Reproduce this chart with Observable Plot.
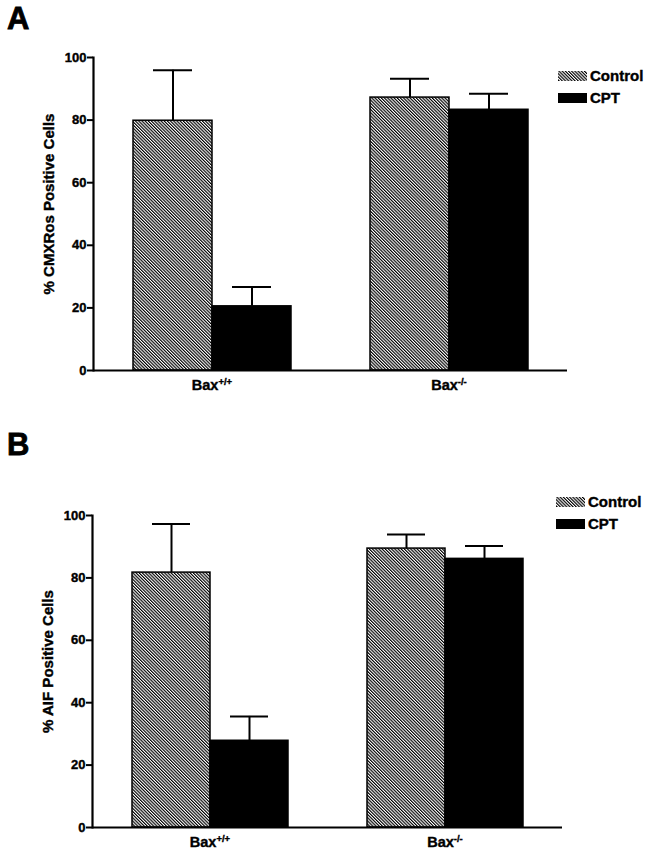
<!DOCTYPE html>
<html>
<head>
<meta charset="utf-8">
<script src="https://cdn.jsdelivr.net/npm/d3@7"></script>
<script src="https://cdn.jsdelivr.net/npm/@observablehq/plot@0.6"></script>
<style>
  body { margin: 0; background: #fff; font-family: "Liberation Sans", Arial, sans-serif; }
  #wrap { position: relative; width: 649px; height: 853px; overflow: hidden; }
  .panel { position: relative; width: 649px; }
  .letter { position: absolute; left: 7px; top: 3px; font-size: 31px; line-height: 31px; font-weight: 900; color: #000; -webkit-text-stroke: 0.8px #000; }
  .legend { position: absolute; font-size: 15px; font-weight: bold; color: #000; -webkit-text-stroke: 0.4px #000; }
  .legend .row { position: relative; height: 22px; width: 95px; }
  .legend .sw { position: absolute; left: 0; top: 6px; width: 29px; height: 10px; }
  .legend .tx { position: absolute; left: 32px; top: 0; line-height: 22px; white-space: nowrap; }
  svg.defs { position: absolute; width: 0; height: 0; }
  #wrap svg text { stroke: #000; stroke-width: 0.4px; }
</style>
</head>
<body>
<svg class="defs" aria-hidden="true">
  <defs>
    <pattern id="hatch" patternUnits="userSpaceOnUse" width="2.25" height="10" patternTransform="rotate(-45)">
      <rect x="0" y="0" width="2.25" height="10" fill="#fff"></rect>
      <rect x="0" y="0" width="1.15" height="10" fill="#000"></rect>
    </pattern>
  </defs>
</svg>
<div id="wrap"></div>
<script>
// ---- data ----
const genotypes = ["Bax+/+", "Bax-/-"];
const treatments = ["Control", "CPT"];
const yTicks = [0, 20, 40, 60, 80, 100];

// Panel A: % CMXRos positive cells (mean, upper error)
const cmxControl = [79.8, 87.2];
const cmxControlErr = [16.1, 6.0];
const cmxCPT = [20.5, 83.3];
const cmxCPTErr = [6.2, 5.1];

// Panel B: % AIF positive cells
const aifControl = [81.7, 89.4];
const aifControlErr = [15.6, 4.5];
const aifCPT = [27.8, 86.1];
const aifCPTErr = [7.8, 4.1];

const panelLetters = ["A", "B"];
const yLabels = ["% CMXRos Positive Cells", "% AIF Positive Cells"];

function rows(ctrl, ctrlErr, cpt, cptErr) {
  const out = [];
  genotypes.forEach((g, i) => {
    out.push({geno: g, treat: treatments[0], value: ctrl[i], hi: ctrl[i] + ctrlErr[i]});
    out.push({geno: g, treat: treatments[1], value: cpt[i], hi: cpt[i] + cptErr[i]});
  });
  return out;
}

function makePlot(data, label, dims) {
  const plot = Plot.plot({
    width: 649,
    height: dims.height,
    marginTop: dims.marginTop,
    marginBottom: dims.marginBottom,
    marginLeft: dims.marginLeft,
    marginRight: dims.marginRight,
    style: {fontFamily: '"Liberation Sans", Arial, sans-serif', color: "#000", background: "#fff", overflow: "visible"},
    fx: {domain: genotypes, padding: 0, label: null},
    x: {domain: treatments, paddingInner: 0, paddingOuter: 0.5, axis: null},
    y: {domain: [0, 100]},
    marks: [
      Plot.ruleX(data, {fx: "geno", x: "treat", y1: "value", y2: "hi", stroke: "#000", strokeWidth: 2}),
      Plot.tickY(data, {fx: "geno", x: "treat", y: "hi", stroke: "#000", strokeWidth: 2, insetLeft: 20, insetRight: 20}),
      Plot.barY(data, {filter: d => d.treat === "Control", fx: "geno", x: "treat", y: "value", fill: "url(#hatch)", stroke: "#000", strokeWidth: 1.5}),
      Plot.barY(data, {filter: d => d.treat === "CPT", fx: "geno", x: "treat", y: "value", fill: "#000", stroke: "#000", strokeWidth: 1.5}),
      Plot.ruleY([0], {stroke: "#000", strokeWidth: 1.8}),
      Plot.frame({anchor: "left", facetAnchor: "left", stroke: "#000", strokeWidth: 2.2}),
      Plot.axisY(yTicks, {tickSize: 6, tickPadding: 1, fontSize: 13, fontWeight: "bold", strokeWidth: 2,
        label, labelAnchor: "center", labelArrow: "none", labelOffset: 50}),
      Plot.axisFx({anchor: "bottom", tickSize: 0, tickPadding: 9, fontSize: 14.5, fontWeight: "bold", label: null})
    ]
  });
  // superscripts on genotype tick labels
  plot.querySelectorAll('[aria-label="fx-axis tick label"] text').forEach(t => {
    const s = t.textContent;
    if (s.startsWith("Bax")) {
      t.textContent = "Bax";
      const sup = document.createElementNS("http://www.w3.org/2000/svg", "tspan");
      sup.setAttribute("dy", "-0.55em");
      sup.setAttribute("font-size", "9.5");
      sup.textContent = s.slice(3);
      t.appendChild(sup);
    }
  });
  const lab = plot.querySelector('[aria-label="y-axis label"]');
  if (lab) {
    lab.setAttribute("font-size", "15");
    lab.querySelectorAll("text").forEach(t => t.setAttribute("font-size", "15"));
    lab.setAttribute("transform", ((lab.getAttribute("transform") || "") + " translate(0,-10)").trim());
  }
  return plot;
}

function legend(left, top) {
  const div = document.createElement("div");
  div.className = "legend";
  div.style.left = left + "px";
  div.style.top = top + "px";
  treatments.forEach(tr => {
    const row = document.createElement("div");
    row.className = "row";
    const fill = tr === "Control" ? "url(#hatch)" : "#000";
    row.innerHTML = `<svg class="sw" width="29" height="10"><rect x="0" y="0" width="29" height="10" fill="${fill}"></rect></svg><span class="tx">${tr}</span>`;
    div.appendChild(row);
  });
  return div;
}

const wrap = document.getElementById("wrap");
const panels = [
  {data: rows(cmxControl, cmxControlErr, cmxCPT, cmxCPTErr),
   dims: {height: 426, marginTop: 57, marginBottom: 56, marginLeft: 92, marginRight: 82}, legend: [558, 65]},
  {data: rows(aifControl, aifControlErr, aifCPT, aifCPTErr),
   dims: {height: 427, marginTop: 89, marginBottom: 26, marginLeft: 91, marginRight: 87}, legend: [556, 65]}
];
panels.forEach((p, i) => {
  const div = document.createElement("div");
  div.className = "panel";
  div.style.height = p.dims.height + "px";
  div.appendChild(makePlot(p.data, yLabels[i], p.dims));
  const letter = document.createElement("div");
  letter.className = "letter";
  letter.textContent = panelLetters[i];
  div.appendChild(letter);
  div.appendChild(legend(p.legend[0], p.legend[1]));
  wrap.appendChild(div);
});
</script>
</body>
</html>
